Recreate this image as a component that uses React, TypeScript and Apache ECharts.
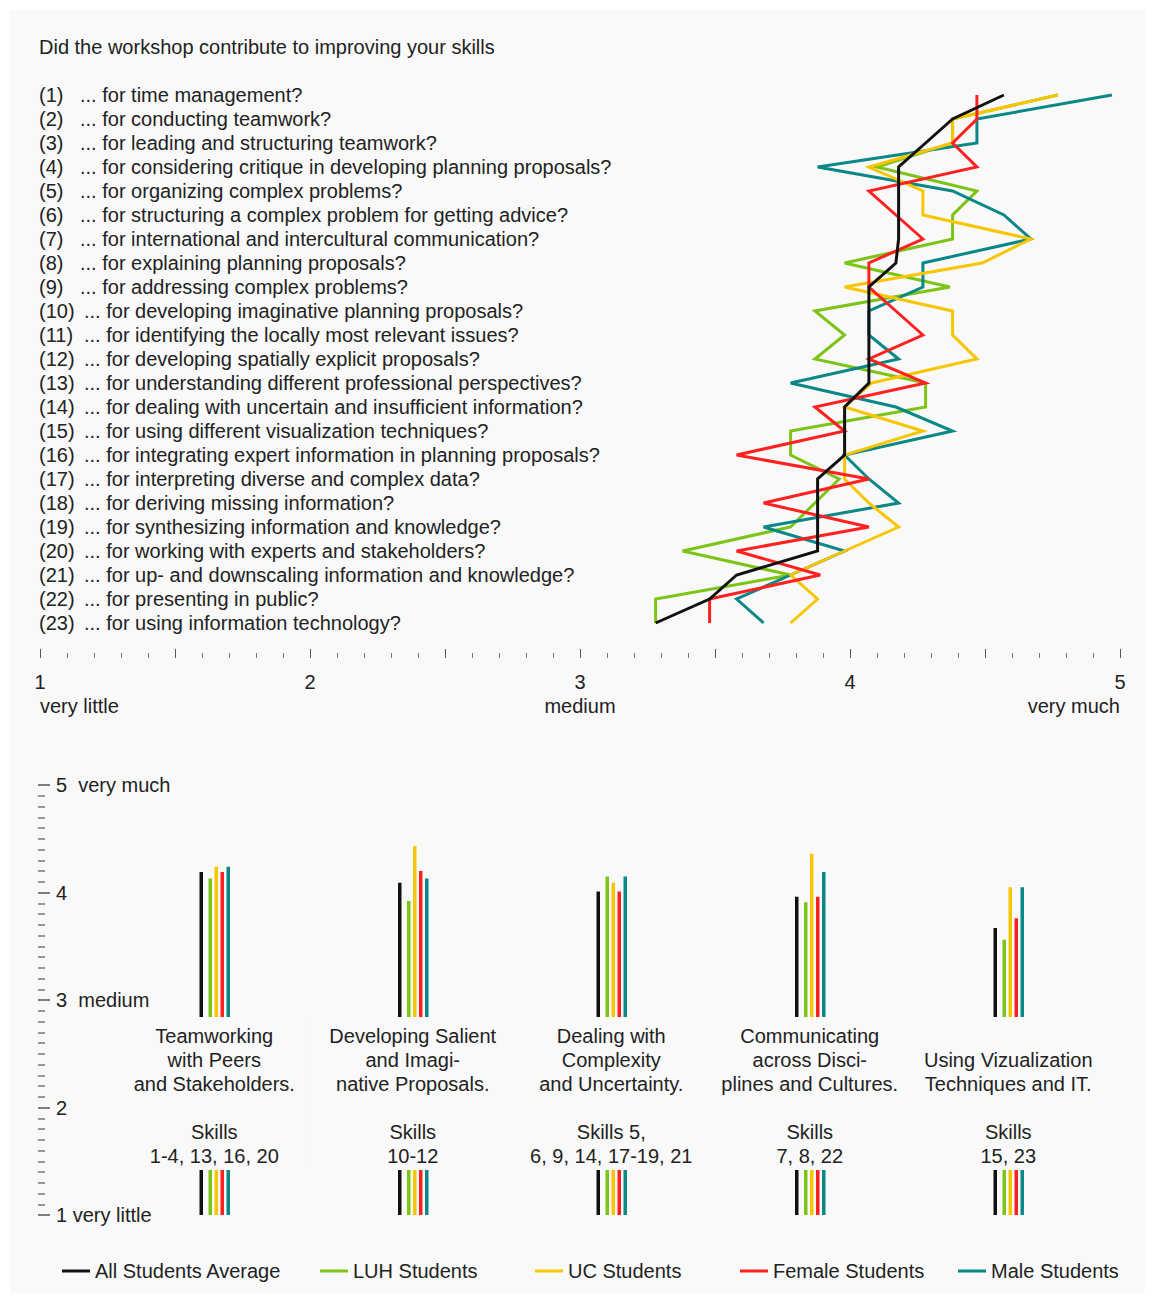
import React, { useEffect, useRef } from "react";
import * as echarts from "echarts";

// ---------- data ----------
const TITLE = "Did the workshop contribute to improving your skills";

const questions = [
  "... for time management?",
  "... for conducting teamwork?",
  "... for leading and structuring teamwork?",
  "... for considering critique in developing planning proposals?",
  "... for organizing complex problems?",
  "... for structuring a complex problem for getting advice?",
  "... for international and intercultural communication?",
  "... for explaining planning proposals?",
  "... for addressing complex problems?",
  "... for developing imaginative planning proposals?",
  "... for identifying the locally most relevant issues?",
  "... for developing spatially explicit proposals?",
  "... for understanding different professional perspectives?",
  "... for dealing with uncertain and insufficient information?",
  "... for using different visualization techniques?",
  "... for integrating expert information in planning proposals?",
  "... for interpreting diverse and complex data?",
  "... for deriving missing information?",
  "... for synthesizing information and knowledge?",
  "... for working with experts and stakeholders?",
  "... for up- and downscaling information and knowledge?",
  "... for presenting in public?",
  "... for using information technology?",
];

const seriesNames = [
  "All Students Average",
  "LUH Students",
  "UC Students",
  "Female Students",
  "Male Students",
];

const allAvg = [4.57, 4.38, 4.28, 4.18, 4.18, 4.18, 4.18, 4.17, 4.07, 4.07, 4.07, 4.07, 4.07, 3.98, 3.98, 3.98, 3.88, 3.88, 3.88, 3.88, 3.58, 3.48, 3.28];
const luh = [4.77, 4.38, 4.38, 4.1, 4.47, 4.38, 4.38, 3.98, 4.37, 3.87, 3.98, 3.87, 4.28, 4.28, 3.78, 3.78, 3.96, 3.87, 3.78, 3.38, 3.78, 3.28, 3.28];
const uc = [4.77, 4.38, 4.38, 4.07, 4.27, 4.27, 4.67, 4.49, 3.98, 4.38, 4.38, 4.47, 4.08, 3.98, 4.27, 3.98, 3.98, 4.07, 4.18, 3.98, 3.78, 3.88, 3.78];
const female = [4.47, 4.47, 4.38, 4.47, 4.07, 4.17, 4.27, 4.07, 4.07, 4.17, 4.27, 4.07, 4.28, 3.87, 3.98, 3.58, 4.07, 3.68, 4.07, 3.58, 3.89, 3.48, 3.48];
const male = [4.97, 4.47, 4.47, 3.88, 4.38, 4.57, 4.67, 4.27, 4.27, 4.07, 4.07, 4.18, 3.78, 4.17, 4.38, 3.98, 4.07, 4.18, 3.68, 3.98, 3.78, 3.58, 3.68];

const scaleNumbers = ["1", "2", "3", "4", "5"];
const scaleWords: Record<number, string> = { 1: "very little", 3: "medium", 5: "very much" };

const groupNames = [
  "Teamworking\nwith Peers\nand Stakeholders.",
  "Developing Salient\nand Imagi-\nnative Proposals.",
  "Dealing with\nComplexity\nand Uncertainty.",
  "Communicating\nacross Disci-\nplines and Cultures.",
  "Using Vizualization\nTechniques and IT.",
];
const groupSkills = ["1-4, 13, 16, 20", "10-12", "5,\n6, 9, 14, 17-19, 21", "7, 8, 22", "15, 23"];

const barAll = [4.19, 4.09, 4.01, 3.96, 3.67];
const barLuh = [4.13, 3.92, 4.15, 3.91, 3.56];
const barUc = [4.24, 4.43, 4.09, 4.36, 4.05];
const barFemale = [4.19, 4.2, 4.01, 3.96, 3.76];
const barMale = [4.24, 4.13, 4.15, 4.19, 4.05];

const bottomTickLabels = ["1 very little", "2", "3  medium", "4", "5  very much"];

// ---------- styles ----------
const FONT = "'Liberation Sans', Arial, Helvetica, sans-serif";
const FS = 20;
const TEXT = "#222";
const BG = "#f9f9f9";
const COLORS = ["#111111", "#7cc416", "#f7c600", "#ff2020", "#0a8787"];
const BAR_OFFSETS = [-13, -4, 2, 8, 14];
const LEGEND_X = [52, 310, 525, 730, 948];
const DRAW_ORDER = [1, 4, 2, 3, 0];

export default function App() {
  const ref = useRef<HTMLDivElement>(null);

  useEffect(() => {
    if (!ref.current) return;
    const chart = echarts.init(ref.current, undefined, { renderer: "svg" });

    const lineData = [allAvg, luh, uc, female, male];
    const barData = [barAll, barLuh, barUc, barFemale, barMale];

    const lineSeries = DRAW_ORDER.map((k) => ({
      type: "line",
      name: seriesNames[k],
      xAxisIndex: 0,
      yAxisIndex: 0,
      data: lineData[k].map((v, i) => [v, i]),
      symbol: "none",
      itemStyle: { color: COLORS[k] },
      lineStyle: { color: COLORS[k], width: 3, join: "miter", miterLimit: 4 },
      z: 3,
    }));

    const barSeries = [0, 1, 2, 3, 4].map((k) => ({
      type: "custom",
      name: seriesNames[k],
      xAxisIndex: 2,
      yAxisIndex: 1,
      data: barData[k].map((v, i) => [i, v]),
      encode: { x: 0, y: 1 },
      itemStyle: { color: COLORS[k] },
      z: 3,
      renderItem: (params: any, api: any) => {
        const top = api.coord([api.value(0), api.value(1)]);
        const base = api.coord([api.value(0), 1]);
        const x = top[0] + BAR_OFFSETS[k];
        return {
          type: "line",
          shape: { x1: x, y1: top[1], x2: x, y2: base[1] },
          style: { stroke: COLORS[k], lineWidth: 3.5 },
        };
      },
    }));

    const textBase = { fontFamily: FONT, fontSize: FS, color: TEXT };

    const option: any = {
      animation: false,
      backgroundColor: "transparent",
      textStyle: { fontFamily: FONT },
      tooltip: { show: false },
      title: {
        text: TITLE,
        left: 29,
        top: 27,
        padding: 0,
        textStyle: { ...textBase, fontWeight: "normal" },
      },
      legend: seriesNames.map((name, i) => ({
        data: [{ name, icon: "rect" }],
        left: LEGEND_X[i],
        top: 1251,
        padding: 0,
        itemWidth: 28,
        itemHeight: 3,
        selectedMode: false,
        textStyle: { ...textBase },
      })),
      grid: [
        { left: 30, top: 73, width: 1080, height: 552 },
        { left: 105, top: 775, width: 992.5, height: 430 },
      ],
      xAxis: [
        {
          gridIndex: 0,
          type: "value",
          min: 1,
          max: 5,
          interval: 0.5,
          position: "bottom",
          offset: 23,
          axisLine: { show: false },
          axisTick: { show: true, inside: true, length: 9, lineStyle: { color: "#555", width: 1 } },
          minorTick: { show: true, splitNumber: 5, length: 5, lineStyle: { color: "#777", width: 1 } },
          splitLine: { show: false },
          minorSplitLine: { show: false },
          axisLabel: {
            ...textBase,
            margin: 14,
            formatter: (v: number) => (Number.isInteger(v) ? scaleNumbers[v - 1] : ""),
          },
        },
        {
          gridIndex: 0,
          type: "value",
          min: 1,
          max: 5,
          interval: 1,
          position: "bottom",
          offset: 23,
          axisLine: { show: false },
          axisTick: { show: false },
          splitLine: { show: false },
          axisLabel: {
            ...textBase,
            margin: 38,
            alignMinLabel: "left",
            alignMaxLabel: "right",
            formatter: (v: number) => scaleWords[v] ?? "",
          },
        },
        {
          gridIndex: 1,
          type: "category",
          data: groupNames,
          position: "bottom",
          offset: -198,
          z: 10,
          axisLine: { show: false },
          axisTick: { show: false },
          splitLine: { show: false },
          axisLabel: {
            ...textBase,
            interval: 0,
            margin: 0,
            lineHeight: 24,
            backgroundColor: BG,
            padding: [7, 10, 2, 10],
            formatter: (v: string, i: number) => {
              const lines = v.split("\n");
              while (lines.length < 3) lines.unshift("");
              const sk = groupSkills[i].split("\n");
              const skillLines = sk.length > 1 ? ["Skills " + sk[0], sk[1]] : ["Skills", sk[0]];
              return [...lines, "", ...skillLines].join("\n");
            },
          },
        },
      ],
      yAxis: [
        {
          gridIndex: 0,
          type: "category",
          data: questions,
          inverse: true,
          axisLine: { show: false },
          axisTick: { show: false },
          splitLine: { show: false },
          axisLabel: {
            ...textBase,
            inside: true,
            interval: 0,
            margin: -1,
            formatter: (v: string, i: number) => `{${i < 9 ? "a" : "b"}|(${i + 1})}${v}`,
            rich: {
              a: { ...textBase, width: 41 },
              b: { ...textBase, width: 45 },
            },
          },
        },
        {
          gridIndex: 1,
          type: "value",
          min: 1,
          max: 5,
          interval: 1,
          position: "left",
          offset: 77,
          axisLine: { show: false },
          axisTick: { show: true, inside: true, length: 12, lineStyle: { color: "#555", width: 1.5 } },
          minorTick: { show: true, splitNumber: 10, length: 7, lineStyle: { color: "#777", width: 1.5 } },
          splitLine: { show: false },
          minorSplitLine: { show: false },
          axisLabel: {
            ...textBase,
            inside: true,
            margin: 18,
            formatter: (v: number) => bottomTickLabels[Math.round(v) - 1] ?? "",
          },
        },
      ],
      series: [...lineSeries, ...barSeries],
    };

    chart.setOption(option);
    return () => chart.dispose();
  }, []);

  return (
    <div style={{ position: "absolute", left: 0, top: 0, width: 1155, height: 1303, background: "#ffffff" }}>
      <div
        ref={ref}
        style={{ position: "absolute", left: 10, top: 10, width: 1135, height: 1283, background: BG }}
      />
    </div>
  );
}
